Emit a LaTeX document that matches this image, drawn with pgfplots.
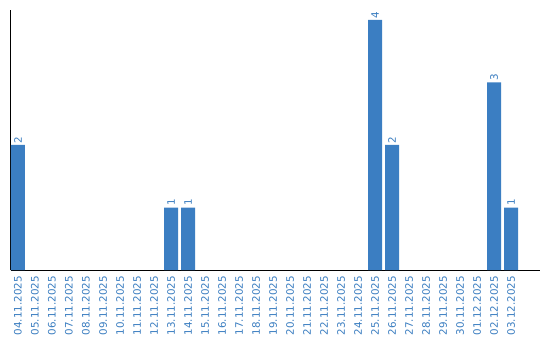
\documentclass[border=0pt]{standalone}
\usepackage{pgfplots}
\pgfplotsset{compat=1.18}
\usepackage{fontspec}
\setmainfont{DejaVu Sans}
\definecolor{barblue}{HTML}{3B7EC2}
\definecolor{lblblue}{HTML}{3A7DC0}
\newcommand{\lblfont}{\fontsize{10.3}{11}\selectfont}
\begin{document}
\begin{tikzpicture}
\begin{axis}[
  scale only axis,
  width=529.5pt, height=260pt,
  at={(0,0)}, anchor=south west,
  xmin=-0.44, xmax=30.7,
  ymin=0, ymax=4.16,
  axis lines*=left,
  axis line style={black, line width=0.9pt},
  ytick=\empty,
  xtick={0,...,29},
  major tick length=0pt,
  /pgf/number format/assume math mode=true,
  xticklabels={04.11.2025,05.11.2025,06.11.2025,07.11.2025,08.11.2025,09.11.2025,10.11.2025,11.11.2025,12.11.2025,13.11.2025,14.11.2025,15.11.2025,16.11.2025,17.11.2025,18.11.2025,19.11.2025,20.11.2025,21.11.2025,22.11.2025,23.11.2025,24.11.2025,25.11.2025,26.11.2025,27.11.2025,28.11.2025,29.11.2025,30.11.2025,01.12.2025,02.12.2025,03.12.2025},
  xticklabel style={yshift=-6pt, rotate=90, anchor=east, font=\lblfont, text=lblblue, inner sep=0pt},
  ybar, bar width=14pt, bar shift=0pt,
  nodes near coords,
  every node near coord/.style={rotate=90, anchor=west, font=\lblfont, text=lblblue, inner sep=1.5pt},
  clip=false,
]
\addplot[fill=barblue, draw=none] coordinates {(0,2) (9,1) (10,1) (21,4) (22,2) (28,3) (29,1)};
\end{axis}
\pgfresetboundingbox
\useasboundingbox (-10.5pt,-70pt) rectangle (529.5pt,270pt);
\end{tikzpicture}
\end{document}
